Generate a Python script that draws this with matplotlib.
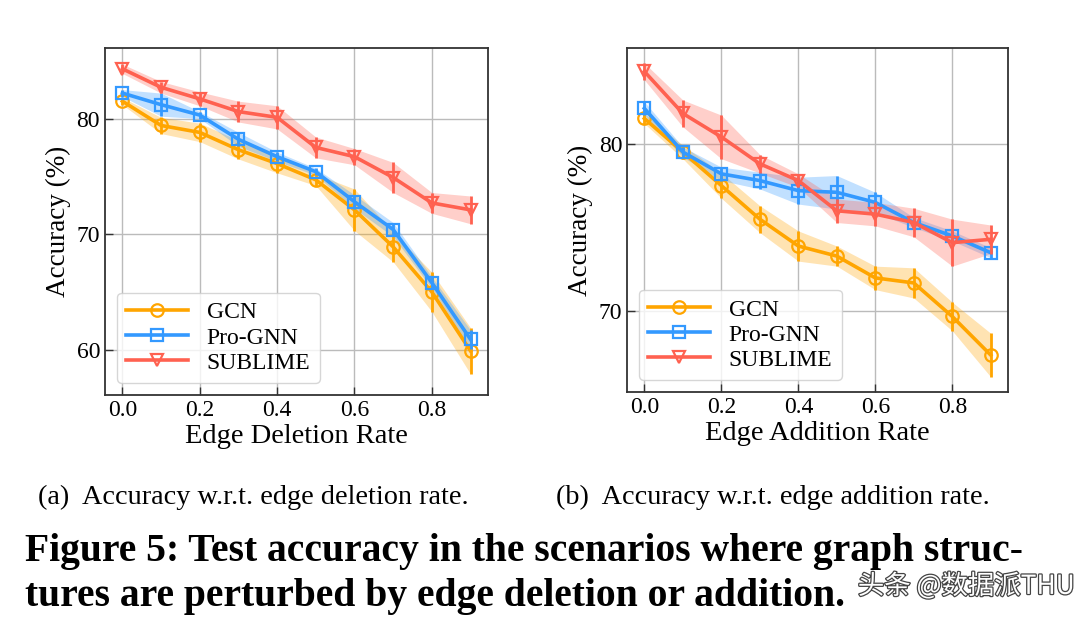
import matplotlib
matplotlib.use("Agg")
import matplotlib.pyplot as plt
import matplotlib.patheffects as pe
import numpy as np

rates = [0.0, 0.1, 0.2, 0.3, 0.4, 0.5, 0.6, 0.7, 0.8, 0.9]
methods = ["GCN", "Pro-GNN", "SUBLIME"]

# (a) edge deletion
del_gcn = [81.5, 79.4, 78.8, 77.3, 76.1, 74.7, 72.1, 68.9, 65.0, 59.9]
del_gcn_std = [0.3, 0.7, 0.8, 0.8, 0.8, 0.5, 1.8, 1.3, 1.7, 2.0]
del_pro = [82.2, 81.2, 80.3, 78.2, 76.7, 75.4, 72.8, 70.4, 65.8, 60.9]
del_pro_std = [0.3, 1.0, 0.3, 0.6, 0.4, 0.3, 0.6, 0.6, 0.5, 0.8]
del_sub = [84.3, 82.7, 81.7, 80.6, 80.1, 77.5, 76.7, 74.9, 72.7, 72.1]
del_sub_std = [0.4, 0.5, 0.6, 0.9, 1.0, 0.9, 0.7, 1.3, 0.9, 1.2]

# (b) edge addition
add_gcn = [81.5, 79.5, 77.5, 75.5, 73.9, 73.3, 72.0, 71.7, 69.7, 67.4]
add_gcn_std = [0.3, 0.4, 0.75, 0.8, 0.9, 0.6, 0.7, 0.9, 0.85, 1.3]
add_pro = [82.1, 79.5, 78.2, 77.8, 77.2, 77.1, 76.5, 75.3, 74.5, 73.5]
add_pro_std = [0.4, 0.3, 0.4, 0.5, 0.8, 1.0, 0.6, 0.3, 0.3, 0.3]
add_sub = [84.3, 81.8, 80.4, 78.8, 77.8, 76.0, 75.8, 75.3, 74.1, 74.3]
add_sub_std = [0.5, 0.8, 1.3, 0.55, 0.4, 0.7, 0.7, 0.85, 1.4, 0.85]

colors = ["#FFA500", "#3399FF", "#FF6150"]
markers = ["o", "s", "v"]

plt.rcParams["font.family"] = ["Liberation Serif", "DejaVu Serif"]

fig = plt.figure(figsize=(10.8, 6.4), dpi=100)
axA = fig.add_axes([0.0972, 0.383, 0.3546, 0.542])
axB = fig.add_axes([0.5806, 0.3875, 0.3528, 0.5375])

def draw(ax, series, xlabel, ylim, yticks):
    x = np.array(rates)
    for (m, s), c, mk, name in zip(series, colors, markers, methods):
        m = np.array(m); s = np.array(s)
        ax.fill_between(x, m - s, m + s, color=c, alpha=0.3, linewidth=0)
        ax.errorbar(x, m, yerr=s, color=c, fmt="none", elinewidth=2.0, capsize=0)
        ax.plot(x, m, color=c, marker=mk, markersize=9,
                markerfacecolor="none", markeredgewidth=1.6, linewidth=2.6,
                label=name)
    ax.set_ylim(*ylim)
    ax.set_xlim(-0.045, 0.945)
    ax.set_yticks(yticks)
    ax.set_xticks([0.0, 0.2, 0.4, 0.6, 0.8])
    ax.set_xticklabels(["0.0", "0.2", "0.4", "0.6", "0.8"])
    ax.grid(True, color="#BBBBBB", linewidth=1.0)
    ax.set_axisbelow(True)
    ax.tick_params(direction="in", labelsize=17, length=6, width=1.0, colors="#333333", labelcolor="black")
    for sp in ax.spines.values():
        sp.set_color("#333333")
        sp.set_linewidth(1.3)
    ax.set_xlabel(xlabel, fontsize=20.5, labelpad=2)
    ax.set_ylabel("Accuracy (%)", fontsize=19.5)
    ax.legend(loc="lower left", fontsize=17, handlelength=2.6, handletextpad=0.8,
              framealpha=0.8, edgecolor="#CCCCCC", borderpad=0.4, labelspacing=0.15)

draw(axA, [(del_gcn, del_gcn_std), (del_pro, del_pro_std), (del_sub, del_sub_std)],
     "Edge Deletion Rate", (56.1, 86.1), [60, 70, 80])
draw(axB, [(add_gcn, add_gcn_std), (add_pro, add_pro_std), (add_sub, add_sub_std)],
     "Edge Addition Rate", (65.2, 85.7), [70, 80])

fig.text(0.035, 0.223, "(a)  Accuracy w.r.t. edge deletion rate.", fontsize=20.3, va="center")
fig.text(0.515, 0.223, "(b)  Accuracy w.r.t. edge addition rate.", fontsize=20.3, va="center")
fig.text(0.023, 0.139, "Figure 5: Test accuracy in the scenarios where graph struc-",
         fontsize=28.5, fontweight="bold", va="center")
fig.text(0.023, 0.068, "tures are perturbed by edge deletion or addition.",
         fontsize=28.5, fontweight="bold", va="center")
fig.text(0.995, 0.084, "头条 @数据派THU", fontsize=19, ha="right", va="center",
         color="white", family=["Noto Sans CJK SC", "DejaVu Sans"],
         path_effects=[pe.withStroke(linewidth=1.8, foreground="#444444")])

fig.savefig("out.png", dpi=100)
